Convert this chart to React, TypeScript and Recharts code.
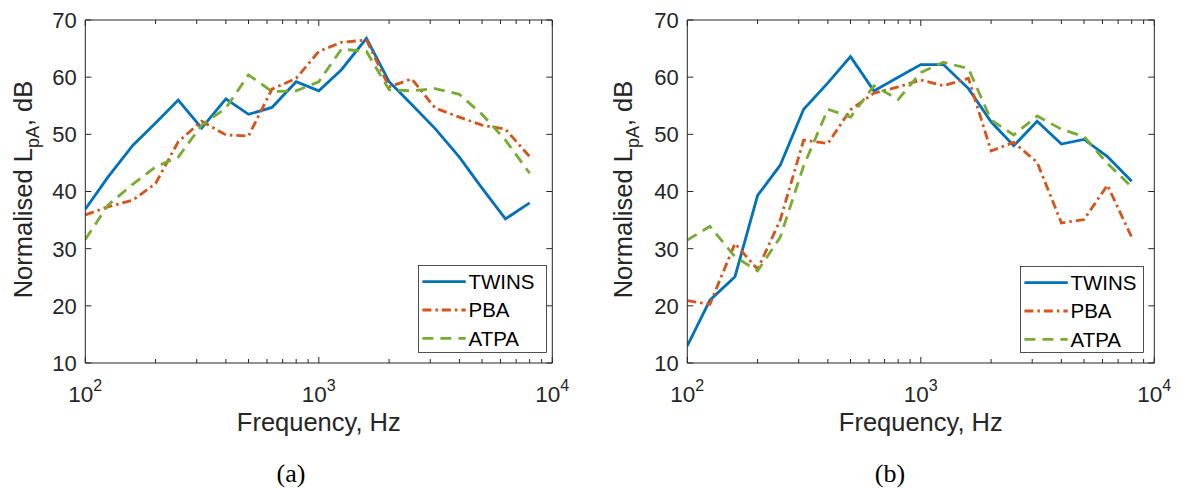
import React from 'react';
import { LineChart, Line, XAxis, YAxis, Legend } from 'recharts';

// ---------- data ----------
const freqs = [100, 125, 160, 200, 250, 315, 400, 500, 630, 800, 1000, 1250, 1600, 2000, 2500, 3150, 4000, 5000, 6300, 8000];

const twinsA = [36.9, 42.5, 48.1, 52.0, 56.0, 51.1, 56.2, 53.5, 54.7, 59.2, 57.6, 61.3, 66.8, 59.2, 55.2, 51.0, 46.0, 40.6, 35.2, 38.0];
const pbaA = [35.9, 37.3, 38.5, 41.4, 48.7, 52.3, 49.9, 49.7, 57.9, 59.8, 64.5, 66.1, 66.5, 58.3, 59.7, 54.6, 53.0, 51.6, 50.9, 46.1];
const atpaA = [31.6, 37.6, 41.3, 44.3, 46.0, 51.6, 54.6, 60.4, 57.5, 57.6, 59.2, 64.9, 64.5, 57.8, 57.6, 58.0, 57.0, 53.5, 49.0, 43.2];

const twinsB = [13.0, 21.0, 25.1, 39.3, 44.6, 54.4, 59.0, 63.6, 57.6, 60.0, 62.2, 62.2, 58.0, 52.2, 48.0, 52.3, 48.3, 49.1, 46.1, 41.8];
const pbaB = [20.9, 20.3, 30.9, 26.4, 35.0, 49.0, 48.4, 54.3, 57.2, 58.3, 59.5, 58.5, 59.8, 47.1, 48.6, 45.1, 34.5, 35.1, 41.1, 32.0];
const atpaB = [31.5, 33.9, 28.6, 26.1, 32.0, 44.5, 54.4, 53.0, 58.5, 56.1, 60.8, 62.6, 61.5, 52.5, 49.9, 53.2, 50.9, 49.6, 44.9, 40.8];

const xMajorTicks = [100, 1000, 10000];
const xAllTicks = [100, 200, 300, 400, 500, 600, 700, 800, 900, 1000, 2000, 3000, 4000, 5000, 6000, 7000, 8000, 9000, 10000];
const yTicks = [10, 20, 30, 40, 50, 60, 70];

const seriesNames = ['TWINS', 'PBA', 'ATPA'];
const seriesKeys = ['twins', 'pba', 'atpa'];
const seriesColors = ['#0072BD', '#D95319', '#77AC30'];
const seriesDash = ['', '9 4 2.5 4', '11 7'];

const dataA = freqs.map((f, i) => ({ f, twins: twinsA[i], pba: pbaA[i], atpa: atpaA[i] }));
const dataB = freqs.map((f, i) => ({ f, twins: twinsB[i], pba: pbaB[i], atpa: atpaB[i] }));

// ---------- style ----------
const AX = '#262626';
const FONT = '"Liberation Sans", Arial, Helvetica, sans-serif';
const LW = 2.8;

const BottomTick = (props: any) => {
  const { x, y, payload } = props;
  const v = payload.value;
  const major = xMajorTicks.includes(v);
  const exp = Math.round(Math.log10(v));
  return (
    <g>
      <line x1={x} x2={x} y1={y} y2={y - (major ? 6 : 4)} stroke={AX} strokeWidth={1} />
      {major && (
        <text x={x} y={y + 39} textAnchor="middle" fontSize={22.5} fill={AX} fontFamily={FONT}>
          10<tspan dy={-11} fontSize={16}>{exp}</tspan>
        </text>
      )}
    </g>
  );
};

const TopTick = (props: any) => {
  const { x, y, payload } = props;
  const major = xMajorTicks.includes(payload.value);
  return <line x1={x} x2={x} y1={y} y2={y + (major ? 6 : 4)} stroke={AX} strokeWidth={1} />;
};

const LeftTick = (props: any) => {
  const { x, y, payload } = props;
  return (
    <g>
      <line x1={x} x2={x + 6} y1={y} y2={y} stroke={AX} strokeWidth={1} />
      <text x={x - 8.5} y={y} dy="0.36em" textAnchor="end" fontSize={22} fill={AX} fontFamily={FONT}>
        {payload.value}
      </text>
    </g>
  );
};

const RightTick = (props: any) => {
  const { x, y } = props;
  return <line x1={x} x2={x - 6} y1={y} y2={y} stroke={AX} strokeWidth={1} />;
};

const makeLegend = (w: number, h: number) => () => (
  <svg width={w + 1} height={h + 1} style={{ display: 'block' }}>
    <rect x={0.5} y={0.5} width={w} height={h} fill="#ffffff" stroke={AX} strokeWidth={0.8} />
    {seriesNames.map((name, i) => {
      const cy = 16.7 + i * 28.3;
      return (
        <g key={name}>
          <line x1={4.4} x2={47.7} y1={cy} y2={cy} stroke={seriesColors[i]} strokeWidth={LW}
            strokeDasharray={seriesDash[i] || undefined} />
          <text x={50.5} y={cy} dy="0.36em" fontSize={20.5} fill="#000" fontFamily={FONT}>{name}</text>
        </g>
      );
    })}
  </svg>
);

type PanelProps = {
  data: any[];
  left: number;
  width: number;
  plotLeft: number;
  plotRight: number;
  legendLeft: number;
  legendTop: number;
  legendW: number;
  legendH: number;
};

const PLOT_TOP = 20;
const PLOT_BOTTOM = 363;
const H = 488;

const Panel = ({ data, left, width, plotLeft, plotRight, legendLeft, legendTop, legendW, legendH }: PanelProps) => {
  const yAxisW = 60;
  const xAxisH = 30;
  const cx = (plotLeft + plotRight) / 2;
  const cy = (PLOT_TOP + PLOT_BOTTOM) / 2 - 2;
  const margin = {
    top: PLOT_TOP - 1,
    bottom: H - PLOT_BOTTOM - xAxisH,
    left: plotLeft - yAxisW,
    right: width - plotRight - 1,
  };
  const renderYLabel = () => (
    <text transform="rotate(-90)" x={-cy} y={32} textAnchor="middle" fontSize={25.5} fill={AX} fontFamily={FONT}>
      Normalised L<tspan dy={7} fontSize={18}>pA</tspan><tspan dy={-7}>, dB</tspan>
    </text>
  );
  const renderXLabel = () => (
    <text x={cx} y={431} textAnchor="middle" fontSize={25.5} fill={AX} fontFamily={FONT}>
      Frequency, Hz
    </text>
  );
  return (
    <div style={{ position: 'absolute', left, top: 0, width, height: H }}>
      <LineChart width={width} height={H} data={data} margin={margin}>
        <XAxis xAxisId="b" dataKey="f" type="number" scale="log" domain={[100, 10000]} allowDataOverflow
          ticks={xAllTicks} interval={0} tickSize={0} tickMargin={0} height={xAxisH}
          axisLine={{ stroke: AX, strokeWidth: 1 }} tickLine={false} tick={<BottomTick />} label={renderXLabel} />
        <XAxis xAxisId="t" orientation="top" dataKey="f" type="number" scale="log" domain={[100, 10000]} allowDataOverflow
          ticks={xAllTicks} interval={0} tickSize={0} tickMargin={0} height={1}
          axisLine={{ stroke: AX, strokeWidth: 1 }} tickLine={false} tick={<TopTick />} />
        <YAxis yAxisId="l" type="number" domain={[10, 70]} ticks={yTicks} interval={0} allowDataOverflow
          tickSize={0} tickMargin={0} width={yAxisW} axisLine={{ stroke: AX, strokeWidth: 1 }} tickLine={false}
          tick={<LeftTick />} label={renderYLabel} />
        <YAxis yAxisId="r" orientation="right" type="number" domain={[10, 70]} ticks={yTicks} interval={0} allowDataOverflow
          tickSize={0} tickMargin={0} width={1} axisLine={{ stroke: AX, strokeWidth: 1 }} tickLine={false}
          tick={<RightTick />} />
        {seriesKeys.map((k, i) => (
          <Line key={k} xAxisId="b" yAxisId="l" type="linear" dataKey={k} name={seriesNames[i]}
            stroke={seriesColors[i]} strokeWidth={LW} strokeDasharray={seriesDash[i] || undefined}
            dot={false} activeDot={false} isAnimationActive={false} />
        ))}
        <Legend layout="vertical" align="center" verticalAlign="middle" content={makeLegend(legendW, legendH)}
          wrapperStyle={{ position: 'absolute', left: legendLeft, top: legendTop, width: legendW + 1, height: legendH + 1 }} />
      </LineChart>
    </div>
  );
};

export default function App() {
  return (
    <div style={{ position: 'absolute', left: 0, top: 0, width: 1180, height: H, background: '#fff', overflow: 'hidden' }}>
      <Panel data={dataA} left={0} width={600} plotLeft={85.3} plotRight={552.3}
        legendLeft={418} legendTop={265} legendW={128} legendH={87} />
      <Panel data={dataB} left={600} width={580} plotLeft={87.3} plotRight={554.3}
        legendLeft={420} legendTop={266} legendW={123} legendH={86} />
      <svg width={1180} height={H} style={{ position: 'absolute', left: 0, top: 0, pointerEvents: 'none' }}>
        <text x={291} y={482} textAnchor="middle" fontSize={26} fill="#000" fontFamily='"Liberation Serif", "Times New Roman", serif'>(a)</text>
        <text x={890} y={482} textAnchor="middle" fontSize={26} fill="#000" fontFamily='"Liberation Serif", "Times New Roman", serif'>(b)</text>
      </svg>
    </div>
  );
}
